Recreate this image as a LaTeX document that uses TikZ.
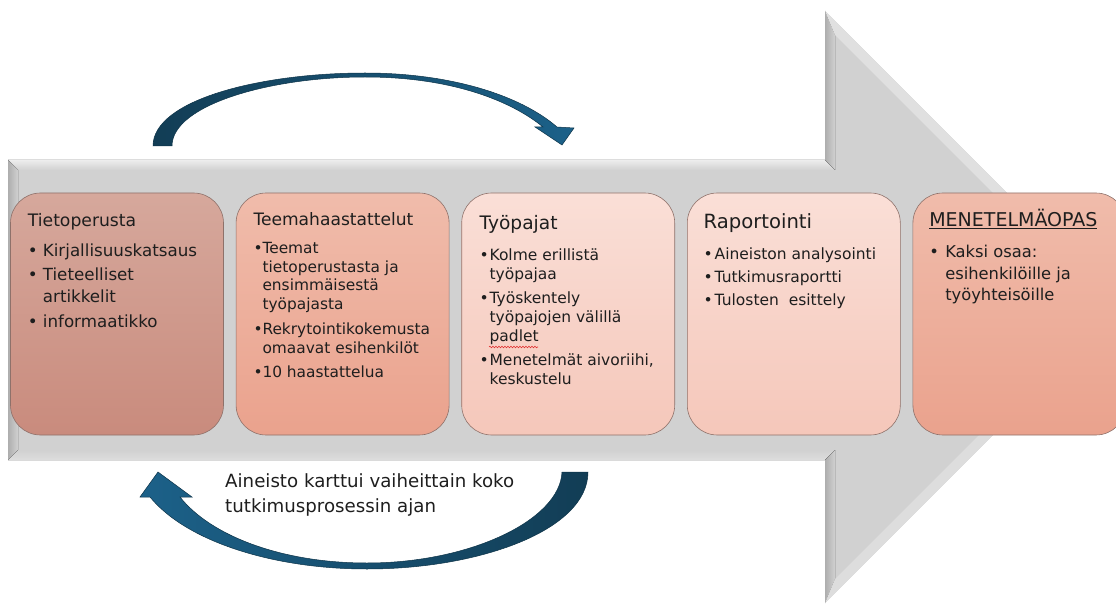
\documentclass[tikz,border=0pt]{standalone}
\usepackage{fontspec}
\setmainfont{DejaVu Sans}
\usetikzlibrary{positioning, decorations.pathmorphing}

\definecolor{arrowgray}{HTML}{D1D1D1}
\definecolor{bevellight}{HTML}{EDEDED}
\definecolor{bevelhead}{HTML}{E0E0E0}
\definecolor{beveldark}{HTML}{AEAEAE}
\definecolor{bevelbottom}{HTML}{DDDDDD}
\definecolor{stageline}{HTML}{8E716A}
\definecolor{st1top}{HTML}{D6A89C}
\definecolor{st1bot}{HTML}{C98B7D}
\definecolor{st2top}{HTML}{F0BCAB}
\definecolor{st2bot}{HTML}{EAA28D}
\definecolor{st3top}{HTML}{FADFD7}
\definecolor{st3bot}{HTML}{F5C7BA}
\definecolor{loopdark}{HTML}{123D55}
\definecolor{looplight}{HTML}{1C6189}
\definecolor{loopline}{HTML}{0D3348}
\definecolor{inkdark}{HTML}{1E1E1E}
\definecolor{spellred}{HTML}{E03030}

\newcommand{\blt}[1][10pt]{\makebox[#1][l]{\textbullet}}
\newcommand{\cnt}[1][10pt]{\hspace*{#1}}

\tikzset{
  stage/.style={rectangle, draw=stageline, line width=0.6pt, rounded corners=30pt,
    minimum width=213pt, minimum height=242pt, inner sep=0pt},
  stagetext/.style={anchor=base west, inner sep=0pt, text=inkdark},
  loop/.style={draw=loopline, line width=0.5pt},
}

\begin{document}
\begin{tikzpicture}[x=1pt, y=-1pt, node distance=12pt]
  \useasboundingbox (0,0) rectangle (1116,604);

  % Process arrow
  \fill[arrowgray] (8,160) -- (825,160) -- (825,11) -- (1121,307) -- (825,603)
    -- (825,460) -- (8,460) -- cycle;
  \fill[top color=bevellight, bottom color=arrowgray] (8,160) -- (825,160) -- (835,170) -- (18,170) -- cycle;
  \fill[left color=beveldark, right color=arrowgray] (8,160) -- (18,170) -- (18,450) -- (8,460) -- cycle;
  \fill[top color=arrowgray, bottom color=bevelbottom] (8,460) -- (18,450) -- (835,450) -- (825,460) -- cycle;
  \fill[left color=beveldark, right color=arrowgray] (825,11) -- (835,35) -- (835,170) -- (825,160) -- cycle;
  \fill[left color=beveldark, right color=arrowgray] (825,460) -- (835,450) -- (835,579) -- (825,603) -- cycle;
  \fill[bevelhead] (825,11) -- (1121,307) -- (1107,307) -- (835,35) -- cycle;
  \fill[bevelbottom] (825,603) -- (1121,307) -- (1107,307) -- (835,579) -- cycle;

  % Stages
  \node[stage, top color=st1top, bottom color=st1bot] (tieto) at (117,314) {};
  \node[stage, top color=st2top, bottom color=st2bot, right=of tieto] (teema) {};
  \node[stage, top color=st3top, bottom color=st3bot, right=of teema] (pajat) {};
  \node[stage, top color=st3top, bottom color=st3bot, right=of pajat] (raportti) {};
  \node[stage, top color=st2top, bottom color=st2bot, right=of raportti] (opas) {};

  % Stage texts
  \node[stagetext] (tietotxt) at ([xshift=17.5pt, yshift=-34pt]tieto.north west)
    {\fontsize{16.7}{21.5}\selectfont
    \begin{tabular}[t]{@{}l@{}}
      {\fontsize{17.2}{20}\selectfont Tietoperusta}\\[8.5pt]
      \blt[15pt]Kirjallisuuskatsaus\\[2.5pt]
      \blt[15pt]Tieteelliset\\
      \cnt[15pt]artikkelit\\[3.5pt]
      \blt[15pt]informaatikko
    \end{tabular}};
  \node[stagetext] (teematxt) at ([xshift=17.5pt, yshift=-33pt]teema.north west)
    {\fontsize{15.4}{18.5}\selectfont
    \begin{tabular}[t]{@{}l@{}}
      {\fontsize{17.1}{20}\selectfont Teemahaastattelut}\\[9.5pt]
      \blt[9pt]Teemat\\
      \cnt[9pt]tietoperustasta ja\\
      \cnt[9pt]ensimmäisestä\\
      \cnt[9pt]työpajasta\\[7pt]
      \blt[9pt]Rekrytointikokemusta\\
      \cnt[9pt]omaavat esihenkilöt\\[6pt]
      \blt[9pt]10 haastattelua
    \end{tabular}};
  \node[stagetext] (pajattxt) at ([xshift=18pt, yshift=-37pt]pajat.north west)
    {\fontsize{15.5}{19}\selectfont
    \begin{tabular}[t]{@{}l@{}}
      {\fontsize{18.6}{22}\selectfont Työpajat}\\[12pt]
      \blt Kolme erillistä\\
      \cnt työpajaa\\[5pt]
      \blt Työskentely\\
      \cnt työpajojen välillä\\
      \cnt padlet\\[5pt]
      \blt Menetelmät aivoriihi,\\
      \cnt keskustelu
    \end{tabular}};
  \node[stagetext] (raporttitxt) at ([xshift=16.5pt, yshift=-36pt]raportti.north west)
    {\fontsize{15.5}{23}\selectfont
    \begin{tabular}[t]{@{}l@{}}
      {\fontsize{19.6}{23}\selectfont Raportointi}\\[8pt]
      \blt[11pt]Aineiston analysointi\\
      \blt[11pt]Tutkimusraportti\\
      \blt[11pt]Tulosten~ esittely
    \end{tabular}};
  \node[stagetext] (opastxt) at ([xshift=16.5pt, yshift=-34pt]opas.north west)
    {\fontsize{16.3}{21.5}\selectfont
    \begin{tabular}[t]{@{}l@{}}
      {\fontsize{19}{22}\selectfont\underline{MENETELMÄOPAS}}\\[9.5pt]
      \blt[16pt]Kaksi osaa:\\
      \cnt[16pt]esihenkilöille ja\\
      \cnt[16pt]työyhteisöille
    \end{tabular}};

  % spell check mark
  \draw[spellred, line width=0.6pt, decorate, decoration={snake, amplitude=0.8pt, segment length=3pt}]
    (489,347) -- (538,347);

  % Loop arrows
  \path[loop, left color=loopdark, right color=looplight]
    (153,146) .. controls (153,100) and (260,73) .. (365,73)
    .. controls (450,73) and (520,95) .. (557,127) -- (574,128) -- (562,145)
    -- (535,127) -- (543,127) .. controls (510,100) and (450,77) .. (365,77)
    .. controls (270,77) and (172,105) .. (172,146) -- cycle;
  \path[loop, left color=looplight, right color=loopdark]
    (588,472) .. controls (588,530) and (480,569) .. (367,569)
    .. controls (270,569) and (185,540) .. (150,497) -- (140,497) -- (158,472)
    -- (192,497) -- (180,497) .. controls (210,535) and (280,563) .. (367,563)
    .. controls (470,563) and (560,520) .. (562,472) -- cycle;

  % Note
  \node[stagetext] (note) at (225,487)
    {\fontsize{18.2}{25}\selectfont
    \begin{tabular}[t]{@{}l@{}}
      Aineisto karttui vaiheittain koko\\
      tutkimusprosessin ajan
    \end{tabular}};
\end{tikzpicture}
\end{document}
